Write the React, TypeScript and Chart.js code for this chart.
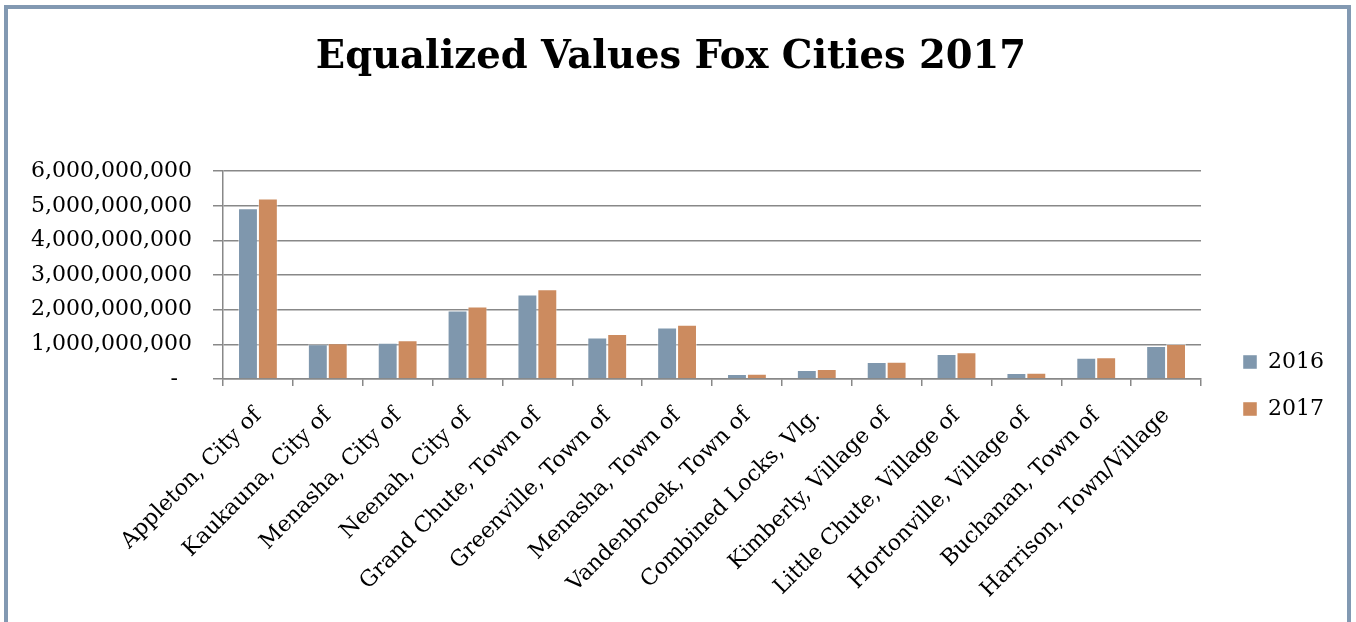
import React, { useEffect, useRef } from 'react';
import { Chart, registerables } from 'chart.js';

Chart.register(...registerables);

const titleText = 'Equalized Values Fox Cities 2017';

const categories = [
  'Appleton, City of',
  'Kaukauna, City of',
  'Menasha, City of',
  'Neenah, City of',
  'Grand Chute, Town of',
  'Greenville, Town of',
  'Menasha, Town of',
  'Vandenbroek, Town of',
  'Combined Locks, Vlg.',
  'Kimberly, Village of',
  'Little Chute, Village of',
  'Hortonville, Village of',
  'Buchanan, Town of',
  'Harrison, Town/Village',
];

const seriesNames = ['2016', '2017'];

const values2016 = [
  4930000000, 1000000000, 1050000000, 1980000000, 2440000000, 1200000000, 1490000000,
  144000000, 260000000, 490000000, 720000000, 172000000, 610000000, 950000000,
];

const values2017 = [
  5210000000, 1030000000, 1120000000, 2090000000, 2590000000, 1300000000, 1570000000,
  154000000, 290000000, 495000000, 770000000, 182000000, 630000000, 1010000000,
];

const yMin = 0;
const yMax = 6000000000;
const yStep = 1000000000;

const COLOR_2016 = '#7F97AD';
const COLOR_2017 = '#CC8B5F';
const GRID = '#888888';
const FONT = "'DejaVu Serif', serif";

export default function App() {
  const ref = useRef<HTMLCanvasElement | null>(null);

  useEffect(() => {
    if (!ref.current) return;
    const chart = new Chart(ref.current, {
      type: 'bar',
      data: {
        labels: categories,
        datasets: [
          {
            label: seriesNames[0],
            data: values2016,
            backgroundColor: COLOR_2016,
            borderColor: 'rgba(255,255,255,0.45)',
            borderWidth: 1,
          },
          {
            label: seriesNames[1],
            data: values2017,
            backgroundColor: COLOR_2017,
            borderColor: 'rgba(255,255,255,0.45)',
            borderWidth: 1,
          },
        ],
      },
      options: {
        responsive: false,
        animation: false,
        devicePixelRatio: 1,
        color: '#000',
        layout: { padding: { left: 0, right: 13, top: 0, bottom: 0 } },
        datasets: {
          bar: { categoryPercentage: 0.57, barPercentage: 1.0 },
        },
        plugins: {
          title: {
            display: true,
            text: titleText,
            color: '#000',
            font: { family: FONT, size: 38.5, weight: 'bold' },
            padding: { top: 26, bottom: 90 },
          },
          legend: {
            display: true,
            position: 'right',
            align: 'start',
            title: {
              display: true,
              text: '',
              font: { family: FONT, size: 10, lineHeight: 1 },
              padding: { top: 307, bottom: 0 },
            },
            labels: {
              color: '#000',
              font: { family: FONT, size: 22 },
              boxWidth: 14,
              boxHeight: 14,
              padding: 25,
            },
          },
          tooltip: { enabled: false },
        },
        scales: {
          x: {
            grid: {
              display: true,
              drawOnChartArea: false,
              drawTicks: true,
              tickLength: 7,
              color: GRID,
              lineWidth: 1.5,
              offset: true,
            },
            border: { display: true, color: GRID, width: 1.5 },
            ticks: {
              autoSkip: false,
              maxRotation: 45,
              minRotation: 45,
              padding: 17,
              color: '#000',
              font: { family: FONT, size: 22 },
            },
            afterFit: (s: any) => {
              s.height = 243;
            },
          },
          y: {
            min: yMin,
            max: yMax,
            grid: {
              color: GRID,
              lineWidth: 1.5,
              drawTicks: true,
              tickLength: 10,
            },
            border: { display: true, color: GRID, width: 1.5 },
            ticks: {
              stepSize: yStep,
              padding: 21,
              color: '#000',
              font: { family: FONT, size: 22 },
              callback: (v: any) => (Number(v) === 0 ? '-  ' : Number(v).toLocaleString('en-US')),
            },
            afterFit: (s: any) => {
              s.width = 215;
            },
          },
          gap: {
            type: 'linear',
            position: 'right',
            display: true,
            grid: { display: false, drawOnChartArea: false },
            border: { display: false },
            ticks: { display: false },
            afterFit: (s: any) => {
              s.width = 17;
            },
          },
        },
      },
    } as any);
    return () => chart.destroy();
  }, []);

  return (
    <div
      style={{
        position: 'absolute',
        left: 4,
        top: 5,
        width: 1339,
        height: 613,
        border: '4px solid #8299B2',
        borderBottom: 'none',
        background: '#fff',
      }}
    >
      <canvas ref={ref} width={1339} height={613} style={{ display: 'block' }} />
    </div>
  );
}
